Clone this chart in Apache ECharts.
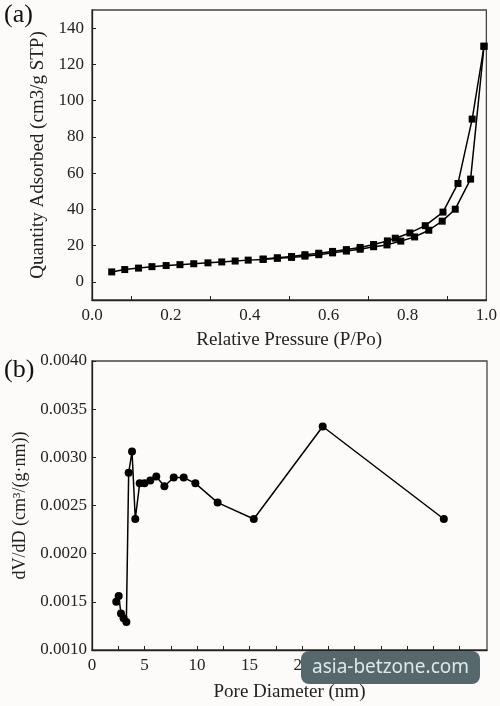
<!DOCTYPE html>
<html><head><meta charset="utf-8">
<script src="https://cdn.jsdelivr.net/npm/echarts@6/dist/echarts.min.js"></script>
<style>html,body{margin:0;padding:0;background:#fdfbfa}#c{width:500px;height:706px}</style>
</head><body><div id="c"></div>
<script>
// (a) N2 isotherm
const adsX = [0.05,0.083,0.118,0.152,0.188,0.223,0.258,0.294,0.329,0.363,0.396,0.434,0.470,0.506,0.540,0.575,0.610,0.645,0.680,0.714,0.748,0.783,0.818,0.854,0.888,0.921,0.960,0.994];
const adsY = [5.5,6.8,7.6,8.4,9.0,9.5,10.0,10.5,11.0,11.5,12.0,12.4,13.0,13.5,14.2,15.0,16.0,17.0,18.0,19.4,20.4,22.5,24.8,28.5,33.5,40.1,56.7,130];
const desX = [0.994,0.964,0.928,0.890,0.845,0.806,0.769,0.749,0.714,0.680,0.645,0.610,0.575,0.540,0.506,0.470,0.434];
const desY = [130,89.8,54.3,38.5,31.0,27.0,24.1,22.6,20.6,19.0,17.8,16.8,15.8,15.0,14.0,13.3,12.6];
const aYTicks = [0,20,40,60,80,100,120,140];
const aXTicks = [0,0.2,0.4,0.6,0.8,1.0];
const aXMinor = [0.1,0.3,0.5,0.7,0.9];
// (b) pore size distribution
const poreD = [2.31,2.54,2.76,3.01,3.27,3.49,3.81,4.12,4.54,5.0,5.55,6.12,6.89,7.78,8.73,9.84,11.96,15.4,21.96,33.49];
const dVdD = [0.00150,0.00156,0.00138,0.00133,0.00129,0.00284,0.00306,0.00236,0.00273,0.00273,0.00276,0.00280,0.00270,0.00279,0.00279,0.00273,0.00253,0.00236,0.00332,0.00236];
const bXTicks = [0,5,10,15,20,25,30,35];
const bXMinor = [2.5,5,7.5,10,12.5,15,17.5,20,22.5,25,27.5,30,32.5,35];

const serif = 'Liberation Serif';
const axColor = '#222';
function zip(a,b){return a.map((v,i)=>[v,b[i]]);}
const lab = {fontFamily: serif, color:'#222'};
const chart = echarts.init(document.getElementById('c'));
chart.setOption({
  backgroundColor:'#fdfbfa',
  animation:false,
  grid:[
    {left:92,right:13,top:10,height:290,show:true,borderColor:'#444',borderWidth:1.3,backgroundColor:'transparent'},
    {left:92,right:13,top:361,height:289,show:true,borderColor:'#444',borderWidth:1.3,backgroundColor:'transparent'}
  ],
  xAxis:[
    {gridIndex:0,type:'value',min:0,max:1,interval:0.2,
     name:'Relative Pressure (P/Po)',nameLocation:'middle',nameGap:31,
     nameTextStyle:{fontFamily:serif,fontSize:19,color:'#222'},
     axisLine:{onZero:false,lineStyle:{color:axColor,width:1.3}},
     axisTick:{show:true,inside:true,length:4,customValues:aXMinor,lineStyle:{color:axColor}},
     axisLabel:{...lab,fontSize:17,margin:7,customValues:aXTicks,formatter:v=>v.toFixed(1)},
     splitLine:{show:false}},
    {gridIndex:1,type:'value',min:0,max:37.6,
     name:'Pore Diameter (nm)',nameLocation:'middle',nameGap:33,
     nameTextStyle:{fontFamily:serif,fontSize:19,color:'#222'},
     axisLine:{onZero:false,lineStyle:{color:axColor,width:1.3}},
     axisTick:{show:true,inside:true,length:4,customValues:bXMinor,lineStyle:{color:axColor}},
     axisLabel:{...lab,fontSize:17,margin:7,customValues:bXTicks},
     splitLine:{show:false}}
  ],
  yAxis:[
    {gridIndex:0,type:'value',min:-10,max:150,
     name:'Quantity Adsorbed (cm3/g STP)',nameLocation:'middle',nameGap:32,
     nameTextStyle:{fontFamily:serif,fontSize:19,color:'#222'},
     axisLine:{show:true,onZero:false,lineStyle:{color:axColor,width:1.3}},
     axisTick:{show:true,inside:true,length:4,customValues:aYTicks,lineStyle:{color:axColor}},
     axisLabel:{...lab,fontSize:17,margin:8,customValues:aYTicks},
     splitLine:{show:false}},
    {gridIndex:1,type:'value',min:0.001,max:0.004,interval:0.0005,
     name:'dV/dD (cm³/(g·nm))',nameLocation:'middle',nameGap:54,
     nameTextStyle:{fontFamily:serif,fontSize:18,color:'#222'},
     axisLine:{show:true,onZero:false,lineStyle:{color:axColor,width:1.3}},
     axisTick:{show:true,inside:true,length:4,lineStyle:{color:axColor}},
     axisLabel:{...lab,fontSize:17,margin:5,formatter:v=>v.toFixed(4)},
     splitLine:{show:false}}
  ],
  series:[
    {type:'line',xAxisIndex:0,yAxisIndex:0,data:zip(adsX,adsY),symbol:'rect',symbolSize:7,
     itemStyle:{color:'#000'},lineStyle:{color:'#000',width:1.5}},
    {type:'line',xAxisIndex:0,yAxisIndex:0,data:zip(desX,desY),symbol:'rect',symbolSize:7,
     itemStyle:{color:'#000'},lineStyle:{color:'#000',width:1.5}},
    {type:'line',xAxisIndex:1,yAxisIndex:1,data:zip(poreD,dVdD),symbol:'circle',symbolSize:8,
     itemStyle:{color:'#000'},lineStyle:{color:'#000',width:1.5}}
  ],
  graphic:[
    {type:'text',left:4,top:2,style:{text:'(a)',font:'26px "Liberation Serif"',fill:'#111'}},
    {type:'text',left:4,top:357,style:{text:'(b)',font:'26px "Liberation Serif"',fill:'#111'}},
    {type:'rect',left:301,top:651,shape:{width:179,height:33,r:8},style:{fill:'#56686c'},z:100},
    {type:'text',x:390.5,y:667.5,style:{text:'asia-betzone.com',font:'19px "Noto Sans"',fill:'#dde8e8',align:'center',verticalAlign:'middle'},z:101}
  ]
});
</script></body></html>
